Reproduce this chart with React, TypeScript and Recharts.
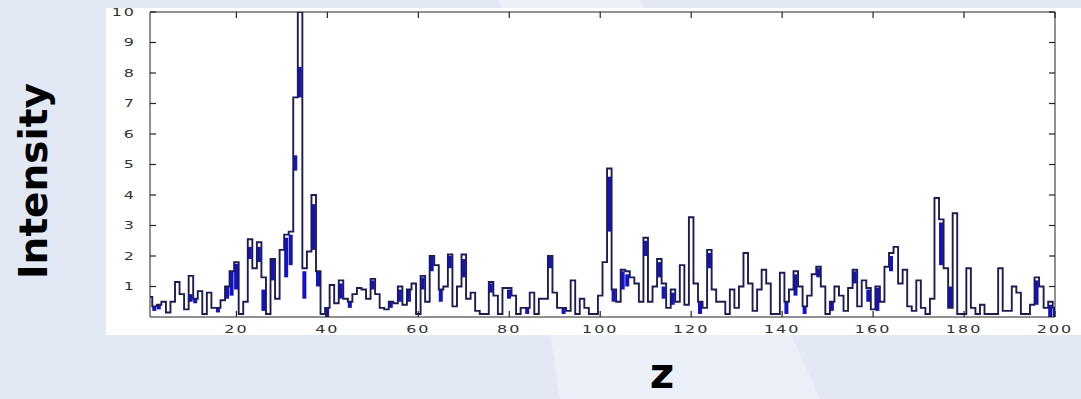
import React from "react";
import { ComposedChart, Line, Bar, XAxis, YAxis } from "recharts";

// Intensity per z bin, z = 1..200
const intensity: number[] = [
  0.66, 0.35, 0.4, 0.5, 0.15, 0.5, 1.15, 0.75, 0.25, 1.35,
  0.6, 0.85, 0.1, 0.8, 0.3, 0.3, 0.55, 1.0, 1.5, 1.8,
  0.1, 0.5, 2.55, 1.6, 2.45, 1.3, 0.1, 1.9, 0.6, 2.2,
  2.7, 2.8, 7.2, 10, 1.6, 2.15, 4.0, 1.5, 0.1, 0.3,
  1.05, 0.45, 1.2, 0.6, 0.5, 0.75, 0.95, 0.9, 0.6, 1.25,
  0.75, 0.3, 0.25, 0.5, 0.45, 1.0, 0.4, 0.9, 1.1, 0.1,
  1.35, 0.5, 2.0, 1.7, 0.9, 1.0, 2.05, 0.35, 1.0, 2.05,
  0.6, 0.8, 0.2, 0.1, 0.1, 1.15, 0.7, 0.1, 0.95, 0.95,
  0.7, 0.1, 0.3, 0.3, 0.8, 0.1, 0.6, 0.6, 2.0, 0.8,
  0.3, 0.3, 0.2, 1.2, 0.1, 0.6, 0.3, 0.1, 0.1, 0.7,
  1.8, 4.87, 0.9, 0.5, 1.55, 1.5, 1.3, 1.1, 0.5, 2.6,
  0.5, 1.0, 1.9, 1.1, 0.3, 0.9, 0.5, 1.7, 0.4, 3.27,
  1.1, 0.5, 0.3, 2.2, 0.9, 0.5, 0.5, 0.1, 0.9, 0.3,
  1.0, 2.1, 1.1, 0.2, 0.9, 1.55, 1.1, 0.1, 0.1, 1.45,
  0.5, 0.9, 1.5, 1.0, 0.35, 0.7, 1.4, 1.65, 1.0, 0.1,
  0.5, 1.0, 0.7, 0.2, 0.95, 1.55, 0.35, 1.2, 0.95, 0.25,
  1.0, 0.5, 1.65, 2.1, 2.3, 1.1, 1.55, 0.35, 0.2, 1.2,
  0.3, 0.1, 0.6, 3.9, 3.2, 1.6, 0.3, 3.4, 0.1, 0.1,
  1.6, 0.3, 0.1, 0.4, 0.1, 0.1, 0.1, 1.6, 0.2, 0.2,
  1.0, 0.8, 0.1, 0.1, 0.4, 1.3, 1.0, 0.3, 0.5, 0.3,
];

// Filled (blue) spans inside individual bins: z, lower edge, upper edge
const shadeZ: number[] = [
  2, 3, 10, 11, 16, 18, 19, 20, 23, 25, 26, 28, 31, 32, 33, 34, 35, 37, 38, 40,
  43, 45, 50, 54, 56, 58, 61, 63, 65, 67, 70, 76, 80, 84, 89, 92, 102, 103, 105, 106,
  110, 113, 114, 116, 122, 124, 141, 143, 145, 148, 151, 156, 159, 161, 164, 175, 177, 196, 199, 200,
];
const shadeLow: number[] = [
  0.2, 0.25, 0.5, 0.45, 0.15, 0.6, 0.7, 0.9, 1.9, 1.8, 0.2, 1.2, 1.3, 1.7, 4.8, 7.2, 0.6, 2.2, 1.0, 0.0,
  0.6, 0.3, 0.9, 0.3, 0.5, 0.5, 0.9, 1.5, 0.5, 1.6, 1.3, 0.8, 0.6, 0.1, 1.6, 0.1, 2.8, 0.5, 0.9, 1.0,
  2.0, 1.3, 0.6, 0.4, 0.1, 1.6, 0.1, 0.7, 0.1, 1.3, 0.2, 1.1, 0.5, 0.2, 1.5, 1.7, 0.3, 0.4, 0.0, 0.0,
];
const shadeHigh: number[] = [
  0.35, 0.4, 0.75, 0.6, 0.3, 1.0, 1.5, 1.75, 2.3, 2.3, 0.9, 1.9, 2.6, 2.7, 5.3, 8.2, 1.5, 3.7, 1.5, 0.3,
  1.1, 0.5, 1.2, 0.5, 0.9, 0.9, 1.3, 2.0, 0.9, 2.0, 1.9, 1.1, 0.9, 0.3, 2.0, 0.3, 4.6, 0.9, 1.5, 1.4,
  2.5, 1.8, 1.0, 0.8, 0.5, 2.1, 0.5, 1.4, 0.35, 1.6, 0.5, 1.5, 0.9, 0.95, 2.0, 3.1, 1.0, 1.2, 0.4, 0.3,
];

const xTicks: number[] = [20, 40, 60, 80, 100, 120, 140, 160, 180, 200];
const yTicks: number[] = [1, 2, 3, 4, 5, 6, 7, 8, 9, 10];

const rows = intensity.map((v, i) => {
  const z = i + 1;
  const k = shadeZ.indexOf(z);
  return {
    z,
    intensity: v,
    shade: k >= 0 ? [shadeLow[k], shadeHigh[k]] : null,
  };
});

const LINE = "#1d1d55";
const FILL = "#1212c8";
const AXIS = "#222";
const TICK_LEN = 6;
const X_GAP = 8; // label offset below the bottom edge
const Y_GAP = 14; // label offset left of the left edge

const labelStyle = {
  fill: "#333",
  fontSize: 11,
  fontFamily: "DejaVu Sans",
  letterSpacing: 1.4,
};

// bottom axis: inward tick mark plus stretched label
const BottomTick = (props: any) => {
  const { x, y, payload } = props;
  const edge = y - X_GAP;
  return (
    <g>
      <line x1={x} x2={x} y1={edge} y2={edge - TICK_LEN} stroke={AXIS} strokeWidth={1.2} />
      <g transform={`translate(${x},${y})`}>
        <text transform="scale(1.45,1)" textAnchor="middle" dy="0.71em" {...labelStyle}>
          {payload.value}
        </text>
      </g>
    </g>
  );
};

// left axis: inward tick mark plus stretched label
const LeftTick = (props: any) => {
  const { x, y, payload } = props;
  const edge = x + Y_GAP;
  return (
    <g>
      <line x1={edge} x2={edge + TICK_LEN} y1={y} y2={y} stroke={AXIS} strokeWidth={1.2} />
      <g transform={`translate(${x},${y})`}>
        <text transform="scale(1.45,1)" textAnchor="end" dy="0.36em" {...labelStyle}>
          {payload.value}
        </text>
      </g>
    </g>
  );
};

// top axis: inward tick mark only
const TopTick = (props: any) => {
  const { x, y } = props;
  return <line x1={x} x2={x} y1={y} y2={y + TICK_LEN} stroke={AXIS} strokeWidth={1.2} />;
};

// right axis: inward tick mark only
const RightTick = (props: any) => {
  const { x, y } = props;
  return <line x1={x} x2={x - TICK_LEN} y1={y} y2={y} stroke={AXIS} strokeWidth={1.2} />;
};

export default function App() {
  return (
    <div
      style={{
        position: "absolute",
        left: 0,
        top: 0,
        width: 1081,
        height: 399,
        background: "#e3e8f5",
        overflow: "hidden",
      }}
    >
      <svg width={1081} height={399} style={{ position: "absolute", left: 0, top: 0 }}>
        <polygon points="500,0 640,0 820,399 560,399" fill="#eef1fa" opacity={0.8} />
      </svg>
      <div
        style={{
          position: "absolute",
          left: 106,
          top: 8,
          width: 975,
          height: 327,
          background: "#ffffff",
        }}
      />
      <div style={{ position: "absolute", left: 0, top: 0 }}>
        <ComposedChart
          width={1081}
          height={399}
          data={rows}
          margin={{ top: 0, right: 0, bottom: 0, left: 0 }}
        >
          <XAxis
            xAxisId="bottom"
            dataKey="z"
            type="number"
            domain={[1, 200]}
            ticks={xTicks}
            height={82}
            orientation="bottom"
            stroke={AXIS}
            tickLine={false}
            tickSize={0}
            tickMargin={X_GAP}
            tick={<BottomTick />}
            interval={0}
            allowDataOverflow
          />
          <XAxis
            xAxisId="top"
            dataKey="z"
            type="number"
            domain={[1, 200]}
            ticks={xTicks}
            height={12}
            orientation="top"
            stroke={AXIS}
            tickLine={false}
            tickSize={0}
            tickMargin={0}
            tick={<TopTick />}
            interval={0}
            allowDataOverflow
          />
          <YAxis
            yAxisId="left"
            type="number"
            domain={[0, 10]}
            ticks={yTicks}
            width={150}
            orientation="left"
            stroke={AXIS}
            tickLine={false}
            tickSize={0}
            tickMargin={Y_GAP}
            tick={<LeftTick />}
            interval={0}
            allowDataOverflow
          />
          <YAxis
            yAxisId="right"
            type="number"
            domain={[0, 10]}
            ticks={yTicks}
            width={26}
            orientation="right"
            stroke={AXIS}
            tickLine={false}
            tickSize={0}
            tickMargin={0}
            tick={<RightTick />}
            interval={0}
            allowDataOverflow
          />
          <Bar
            xAxisId="bottom"
            yAxisId="left"
            dataKey="shade"
            fill={FILL}
            barSize={4}
            isAnimationActive={false}
          />
          <Line
            xAxisId="bottom"
            yAxisId="left"
            dataKey="intensity"
            type="step"
            stroke={LINE}
            strokeWidth={1.9}
            dot={false}
            isAnimationActive={false}
          />
        </ComposedChart>
      </div>
      <svg
        width={1081}
        height={399}
        style={{ position: "absolute", left: 0, top: 0, pointerEvents: "none" }}
      >
        <text
          transform="translate(47,181) rotate(-90)"
          textAnchor="middle"
          fontFamily="DejaVu Sans"
          fontWeight="bold"
          fontSize={39}
          fill="#000"
        >
          Intensity
        </text>
        <text
          x={662}
          y={388}
          textAnchor="middle"
          fontFamily="DejaVu Sans"
          fontWeight="bold"
          fontSize={42}
          fill="#000"
        >
          z
        </text>
      </svg>
    </div>
  );
}
